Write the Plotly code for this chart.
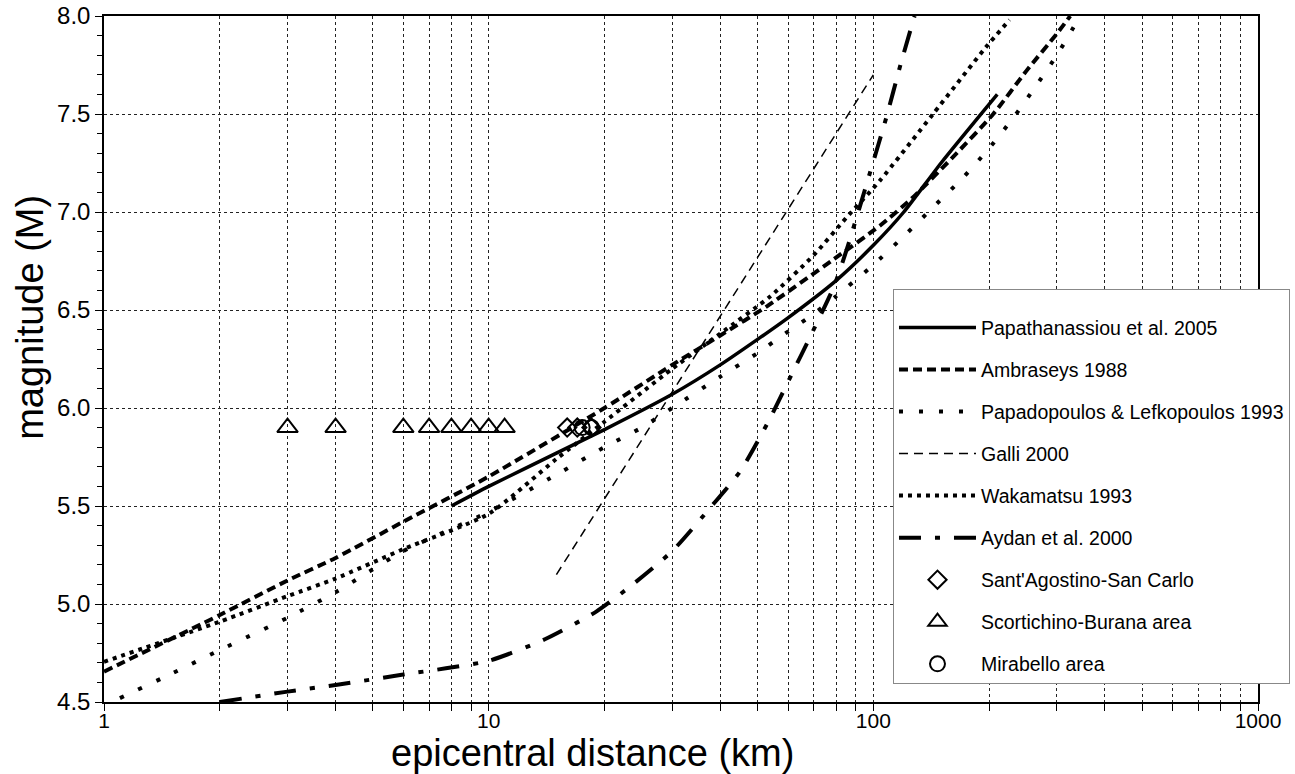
import plotly.graph_objects as go

# ---------------- data ----------------
papa_x = [8, 10, 15, 20, 30, 40, 50, 60, 80, 100, 120, 150, 210]
papa_y = [5.5, 5.6, 5.77, 5.89, 6.07, 6.22, 6.35, 6.46, 6.65, 6.83, 7.0, 7.25, 7.6]

ambr_x = [1, 2, 3, 4, 6, 10, 20, 30, 40, 53, 79, 104, 126, 161, 205, 250, 300, 325]
ambr_y = [4.655, 4.944, 5.12, 5.235, 5.42, 5.65, 6.0, 6.22, 6.37, 6.52, 6.76, 6.93,
          7.07, 7.28, 7.5, 7.72, 7.91, 8.0]

papad_x = [1.1, 1.5, 2, 3, 4, 6, 10, 15, 20, 25, 30, 40, 50, 60, 70, 80, 100, 122,
           144, 170, 199, 231, 264, 300, 345]
papad_y = [4.52, 4.645, 4.765, 4.93, 5.06, 5.27, 5.47, 5.66, 5.8, 5.9, 6.0, 6.16,
           6.28, 6.39, 6.48, 6.57, 6.73, 6.89, 7.03, 7.17, 7.32, 7.48, 7.64, 7.8, 8.0]

galli_x = [15, 100]
galli_y = [5.15, 7.7]

waka_x = [1, 2, 3, 4, 6, 10, 15, 20, 30, 40, 54, 70, 85, 104, 143, 196, 226]
waka_y = [4.705, 4.91, 5.04, 5.13, 5.28, 5.46, 5.74, 5.93, 6.2, 6.38, 6.57, 6.78,
          6.97, 7.16, 7.5, 7.84, 7.98]

aydan_x = [2, 3, 4, 6, 10, 14, 19, 23, 30, 38, 45, 53, 62, 68, 79, 85, 92, 98, 108,
           118, 128]
aydan_y = [4.5, 4.553, 4.587, 4.64, 4.71, 4.82, 4.96, 5.08, 5.27, 5.5, 5.675, 5.92,
           6.19, 6.35, 6.62, 6.8, 7.02, 7.2, 7.48, 7.76, 8.0]

sant_x = [16, 17, 18.5]
sant_y = [5.9, 5.9, 5.9]

scort_x = [3, 4, 6, 7, 8, 9, 10, 11]
scort_y = [5.9, 5.9, 5.9, 5.9, 5.9, 5.9, 5.9, 5.9]

mira_x = [17.5, 18.5]
mira_y = [5.9, 5.9]

x_decades = [1, 10, 100, 1000]
x_tick_labels = ["1", "10", "100", "1000"]

x_title = "epicentral distance (km)"
y_title = "magnitude (M)"

# ---------------- figure ----------------
FONT = "Liberation Sans, Arial, Helvetica, sans-serif"
fig = go.Figure()

line_series = [
    ("Papathanassiou et al. 2005", papa_x, papa_y, dict(width=3.5, dash="solid")),
    ("Ambraseys 1988", ambr_x, ambr_y, dict(width=4, dash="9px,5px")),
    ("Papadopoulos & Lefkopoulos 1993", papad_x, papad_y, dict(width=4, dash="4px,16px")),
    ("Galli 2000", galli_x, galli_y, dict(width=1.5, dash="9px,6px")),
    ("Wakamatsu 1993", waka_x, waka_y, dict(width=4, dash="4px,5px")),
    ("Aydan et al. 2000", aydan_x, aydan_y, dict(width=4, dash="22px,14px,5px,14px")),
]
for i, (name, xs, ys, ln) in enumerate(line_series):
    fig.add_trace(go.Scatter(
        x=xs, y=ys, mode="lines", name=name, legendgroup=f"g{i}",
        line=dict(color="black", shape="spline", smoothing=0.6, **ln),
    ))

marker_series = [
    ("Sant'Agostino-San Carlo", sant_x, sant_y, "diamond-open", 14),
    ("Scortichino-Burana area", scort_x, scort_y, "triangle-up-open", 18),
    ("Mirabello area", mira_x, mira_y, "circle-open", 15),
]
for j, (name, xs, ys, sym, sz) in enumerate(marker_series):
    fig.add_trace(go.Scatter(
        x=xs, y=ys, mode="markers", name=name, legendgroup=f"m{j}",
        marker=dict(symbol=sym, size=sz, color="black", line=dict(color="black", width=2)),
    ))

# x ticks: every 1..9 of each decade, labels only on decades
tickvals = []
ticktext = []
for d, lab in zip(x_decades[:-1], x_tick_labels[:-1]):
    for k in range(1, 10):
        tickvals.append(d * k)
        ticktext.append(lab if k == 1 else "")
tickvals.append(x_decades[-1])
ticktext.append(x_tick_labels[-1])

fig.update_xaxes(
    type="log", range=[0, 3],
    tickvals=tickvals, ticktext=ticktext,
    ticks="outside", ticklen=7, tickwidth=1, tickcolor="black",
    showgrid=True, gridcolor="#222", griddash="dot", gridwidth=1,
    showline=True, linecolor="black", linewidth=1.5, mirror=True,
    zeroline=False,
    tickfont=dict(family=FONT, size=21, color="black"),
    ticklabelstandoff=-8,
    automargin=False,
)
fig.update_yaxes(
    range=[4.5, 8.0], dtick=0.5, tick0=4.5, tickformat=".1f",
    ticks="outside", ticklen=7, tickwidth=1, tickcolor="black",
    minor=dict(dtick=0.1, ticks="outside", ticklen=5, tickcolor="black", showgrid=False),
    showgrid=True, gridcolor="#222", griddash="dot", gridwidth=1,
    showline=True, linecolor="black", linewidth=1.5, mirror=True,
    zeroline=False,
    tickfont=dict(family=FONT, size=24, color="black"),
    automargin=False,
)

# axis titles (placed as in the reference, off-centre)
fig.add_annotation(text=x_title, xref="paper", yref="paper", x=0.4237, y=-0.074,
                   xanchor="center", yanchor="middle", showarrow=False,
                   font=dict(family=FONT, size=38, color="black"))
fig.add_annotation(text=y_title, xref="paper", yref="paper", x=-0.0641, y=0.56,
                   xanchor="center", yanchor="middle", showarrow=False, textangle=-90,
                   font=dict(family=FONT, size=38, color="black"))

fig.update_layout(
    width=1295, height=774,
    margin=dict(l=104, r=37, t=16, b=72, autoexpand=False),
    paper_bgcolor="white", plot_bgcolor="white",
    font=dict(family=FONT, color="black"),
    legend=dict(
        x=0.6837, y=0.602, xanchor="left", yanchor="top",
        bgcolor="white", bordercolor="#888", borderwidth=1,
        font=dict(family=FONT, size=19.5, color="black"),
        traceorder="grouped", tracegroupgap=13.7, itemwidth=77,
        title=dict(text=" ", font=dict(size=14)),
    ),
    showlegend=True,
)

# remove the page's default body margin so the figure sits at the window origin
fig.write_html("out.html", config={"displayModeBar": False},
               post_script="document.body.style.margin='0px';")
